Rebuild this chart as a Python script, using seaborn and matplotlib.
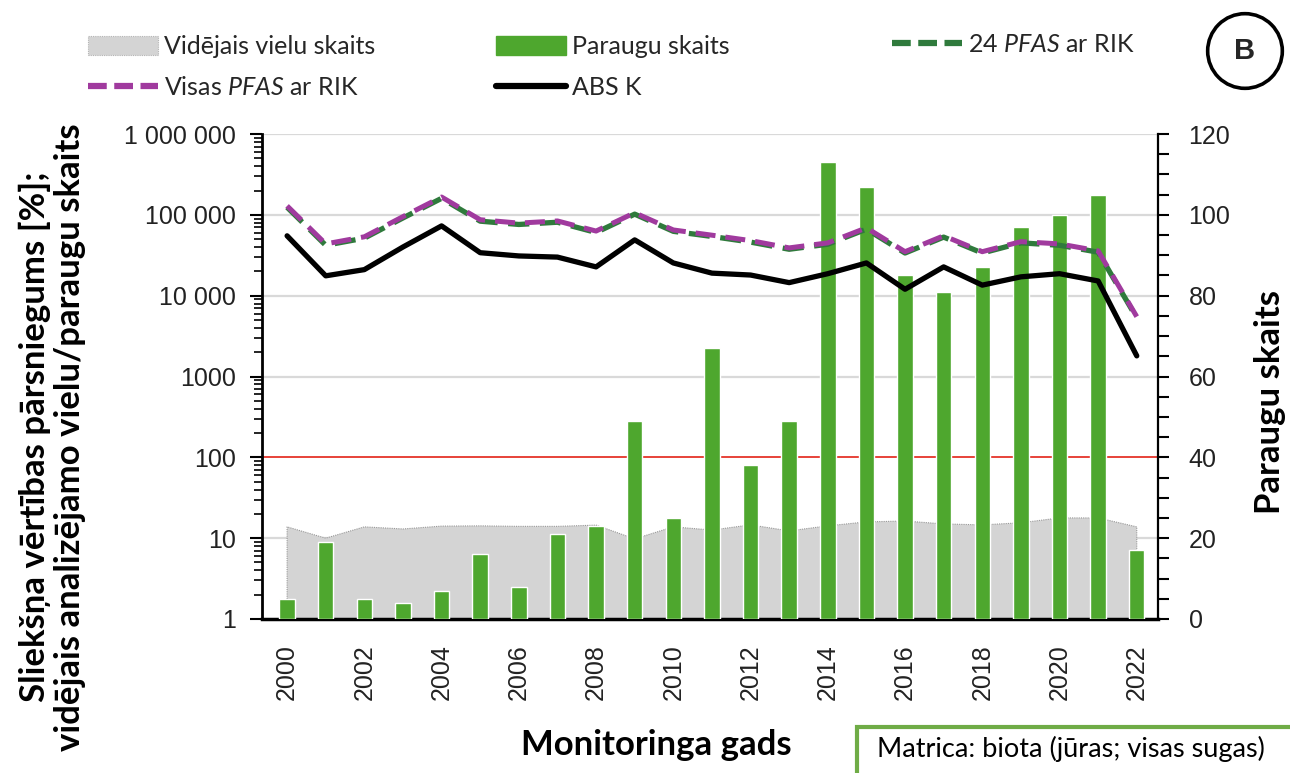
import pandas as pd
import seaborn as sns
import matplotlib.pyplot as plt
from matplotlib.patches import Patch, Rectangle
from matplotlib.lines import Line2D
from matplotlib.ticker import MultipleLocator, LogLocator, NullFormatter

# dati nolasīti no attēla
years = list(range(2000, 2023))
paraugu_skaits = [5, 19, 5, 4, 7, 16, 8, 21, 23, 49, 25, 67, 38, 49,
                  113, 107, 85, 81, 87, 97, 100, 105, 17]
videjais_vielu_skaits = [13.8, 10.0, 13.8, 13.0, 14.1, 14.2, 14.0, 14.0, 14.5, 9.8, 13.8, 12.6,
                         14.6, 12.3, 14.2, 15.9, 16.3, 15.0, 14.6, 15.5, 17.8, 17.8, 13.8]
visas_pfas_rik = [129000, 43700, 53500, 95000, 166000, 87000, 79000, 84000, 63000, 106000,
                  65000, 56000, 48000, 39000, 45000, 69000, 35000, 55000, 35000, 46600,
                  43700, 35800, 5500]
pfas24_rik = [124000, 42000, 51500, 91500, 160000, 83500, 76000, 81000, 60500, 102000,
              62500, 54000, 46000, 37500, 43300, 66500, 33700, 53000, 33700, 45000,
              42000, 34500, 5300]
abs_k = [55000, 17600, 21000, 40000, 73000, 34000, 31000, 30000, 22700, 49000,
         25400, 19000, 18000, 14500, 18700, 25400, 12000, 22700, 13500, 17100,
         18700, 15200, 1800]

left_ticks = [1, 10, 100, 1000, 10000, 100000, 1000000]
left_labels = ["1", "10", "100", "1000", "10 000", "100 000", "1 000 000"]

df = pd.DataFrame({"gads": years, "paraugi": paraugu_skaits, "vielas": videjais_vielu_skaits,
                   "visas": visas_pfas_rik, "pfas24": pfas24_rik, "absk": abs_k})

sns.set_theme(style="white")
plt.rcParams["font.family"] = ["Liberation Sans", "DejaVu Sans"]
plt.rcParams["mathtext.fontset"] = "custom"
plt.rcParams["mathtext.it"] = "Lato:italic"
plt.rcParams["mathtext.rm"] = "Lato"

W, H = 1290, 773
fig = plt.figure(figsize=(12.9, 7.73), dpi=100)
ax = fig.add_axes([262 / W, 1 - 619 / H, (1158 - 262) / W, (619 - 134) / H])

GREEN = "#4ea72e"
PINK = "#a03a9e"
DKGREEN = "#2f7a3c"
GRAY = "#d4d4d4"

# kreisā ass (log): režģis, slieksnis, vidējais vielu skaits
ax.set_yscale("log")
for v in [10, 1000, 10000, 100000, 1000000]:
    ax.axhline(v, color="#d9d9d9", lw=1.6, zorder=0)
ax.axhline(100, color="#e5342a", lw=1.3, zorder=1)
ax.fill_between(df["gads"], df["vielas"], 1, facecolor=GRAY, edgecolor="#999999",
                linestyle=(0, (1, 1)), lw=0.8, zorder=2)

# labā ass: paraugu skaits
ax2 = ax.twinx()
sns.barplot(data=df, x="gads", y="paraugi", ax=ax2, native_scale=True, color=GREEN,
            saturation=1, width=0.4)

# līnijas virs stabiņiem
ax3 = ax.twinx()
ax3.set_yscale("log")
sns.lineplot(data=df, x="gads", y="pfas24", ax=ax3, color=DKGREEN, lw=3.8,
             linestyle=(0, (4, 2)))
sns.lineplot(data=df, x="gads", y="visas", ax=ax3, color=PINK, lw=3.6,
             linestyle=(0, (4, 2)))
sns.lineplot(data=df, x="gads", y="absk", ax=ax3, color="black", lw=3.8)

ax.set_ylim(1, 1e6)
ax3.set_ylim(1, 1e6)
ax2.set_ylim(0, 120)
ax.set_xlim(1999.35, 2022.55)

ax.set_yticks(left_ticks, labels=left_labels)
ax.yaxis.set_minor_locator(LogLocator(base=10, subs=range(2, 10), numticks=20))
ax.yaxis.set_minor_formatter(NullFormatter())
ax.tick_params(axis="y", which="major", left=True, direction="out", length=9, width=1.5,
               labelsize=18, pad=10, colors="black", labelcolor="#222222")
ax.tick_params(axis="y", which="minor", left=True, direction="out", length=6, width=1.2,
               colors="black")
ax.set_xticks(range(2000, 2023, 2))
ax.tick_params(axis="x", bottom=False, length=0, labelsize=18, labelrotation=90, pad=18,
               labelcolor="#222222")

ax2.set_yticks(range(0, 121, 20))
ax2.yaxis.set_minor_locator(MultipleLocator(5))
ax2.tick_params(axis="y", which="both", right=True, direction="out", length=8, width=1.5,
                labelsize=18, pad=14, colors="black", labelcolor="#222222")

ax3.set_yticks([])
ax3.minorticks_off()
ax3.tick_params(axis="y", which="both", right=False, labelright=False)

for a in (ax, ax2, ax3):
    a.set_xlabel("")
    a.set_ylabel("")
    for s in a.spines.values():
        s.set_visible(False)
ax.spines["left"].set_visible(True)
ax.spines["left"].set_color("black")
ax.spines["left"].set_linewidth(2)
ax.spines["bottom"].set_visible(True)
ax.spines["bottom"].set_color("black")
ax.spines["bottom"].set_linewidth(2.5)
ax2.spines["right"].set_visible(True)
ax2.spines["right"].set_color("black")
ax2.spines["right"].set_linewidth(1.6)

# asu nosaukumi
bold = dict(family=["Lato", "DejaVu Sans"], weight="bold", fontsize=25, color="black")
fig.text(52 / W, 1 - 437 / H, "Sliekšņa vērtības pārsniegums [%];\nvidējais analizējamo vielu/paraugu skaits",
         rotation=90, ha="center", va="center", multialignment="center", linespacing=1.12, **bold)
fig.text(1270 / W, 1 - 402 / H, "Paraugu skaits", rotation=90, ha="center", va="center", **bold)
fig.text(656 / W, 1 - 745 / H, "Monitoringa gads", ha="center", va="center", **bold)

# leģenda
leg_kw = dict(frameon=False, handlelength=2.8, handleheight=0.8,
              handletextpad=0.22, labelspacing=0.7, borderpad=0, borderaxespad=0,
              prop=dict(family=["Lato", "DejaVu Sans"], size=18))
h_gray = Patch(facecolor=GRAY, edgecolor="#b5b5b5", linestyle=(0, (1, 1)), lw=0.8)
h_green = Patch(facecolor=GREEN, edgecolor=GREEN)
h_pink = Line2D([], [], color=PINK, lw=4.5, linestyle=(0, (3, 1.2)))
h_dk = Line2D([], [], color=DKGREEN, lw=4.5, linestyle=(0, (3, 1.2)))
h_black = Line2D([], [], color="black", lw=4.5)
fig.legend([h_gray, h_pink], ["Vidējais vielu skaits", r"Visas $\it{PFAS}$ ar RIK"],
           loc="center left", bbox_to_anchor=(88 / W, 1 - 67 / H), **leg_kw)
fig.legend([h_green, h_black], ["Paraugu skaits", "ABS K"],
           loc="center left", bbox_to_anchor=(496 / W, 1 - 67 / H), **leg_kw)
fig.legend([h_dk], [r"24 $\it{PFAS}$ ar RIK"],
           loc="center left", bbox_to_anchor=(892 / W, 1 - 45 / H), **leg_kw)

# apzīmējums "B"
fig.text(1245 / W, 1 - 51 / H, "B", ha="center", va="center", fontsize=21, weight="bold",
         family=["Liberation Sans"],
         bbox=dict(boxstyle="circle,pad=0.8", fc="white", ec="black", lw=2.6))

# matricas lodziņš
fig.add_artist(Rectangle((857 / W, -0.05), 0.5, 1 - 727 / H + 0.05, transform=fig.transFigure,
                         facecolor="white", edgecolor="#6fac46", lw=3))
fig.text(877 / W, 1 - 749 / H, "Matrica: biota (jūras; visas sugas)", ha="left", va="center",
         fontsize=19.5, family=["Lato", "DejaVu Sans"], color="black")

fig.savefig("out.png", dpi=100)
